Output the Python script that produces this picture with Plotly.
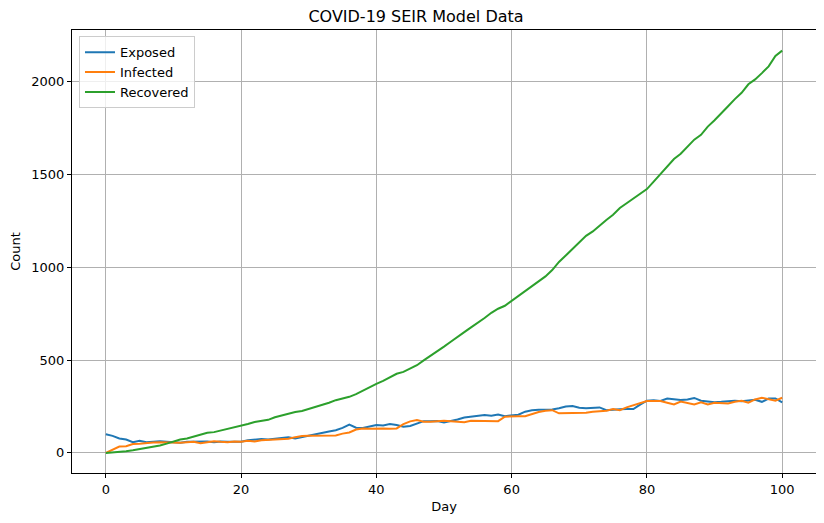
import plotly.graph_objects as go

days = list(range(101))

exposed = [100, 92, 78, 72, 58, 65, 58, 62, 63, 60,
           58, 55, 60, 62, 60, 62, 58, 62, 60, 62,
           60, 68, 72, 75, 72, 76, 80, 84, 78, 86,
           95, 100, 108, 115, 122, 135, 153, 136, 134, 142,
           150, 148, 155, 150, 141, 145, 158, 171, 170, 172,
           164, 170, 180, 191, 195, 196, 204, 200, 207, 198,
           204, 206, 222, 230, 232, 233, 234, 240, 250, 253,
           243, 240, 243, 245, 230, 234, 235, 236, 236, 260,
           281, 284, 280, 293, 290, 285, 288, 296, 281, 276,
           273, 275, 278, 281, 278, 284, 286, 275, 293, 293,
           272]

infected = [0, 15, 34, 36, 48, 50, 55, 56, 58, 57,
            60, 55, 58, 60, 52, 58, 63, 60, 58, 62,
            60, 65, 62, 68, 70, 72, 74, 76, 85, 91,
            92, 92, 94, 93, 94, 104, 110, 126, 132, 130,
            132, 132, 130, 132, 155, 170, 177, 168, 168, 172,
            173, 170, 167, 165, 173, 172, 172, 170, 171, 195,
            197, 198, 197, 209, 220, 227, 230, 213, 214, 215,
            214, 216, 221, 224, 227, 236, 230, 245, 257, 268,
            279, 280, 279, 270, 261, 277, 270, 261, 272, 261,
            270, 268, 266, 275, 281, 270, 288, 297, 288, 281,
            297]

recovered = [0, 2, 5, 9, 14, 20, 26, 32, 40, 50,
             62, 72, 78, 88, 102, 108, 112, 120, 130, 140,
             148, 156, 166, 172, 178, 192, 202, 212, 220, 226,
             236, 246, 256, 270, 284, 292, 302, 316, 336, 356,
             372, 388, 406, 426, 436, 452, 472, 498, 522, 544,
             572, 598, 626, 650, 676, 700, 726, 754, 776, 792,
             818, 844, 870, 896, 922, 950, 984, 1028, 1062, 1098,
             1134, 1168, 1192, 1224, 1254, 1282, 1318, 1344, 1370, 1396,
             1420, 1460, 1500, 1540, 1582, 1610, 1650, 1686, 1712, 1756,
             1790, 1826, 1866, 1904, 1938, 1984, 2010, 2044, 2080, 2136,
             2165]

x_ticks = [0, 20, 40, 60, 80, 100]
y_ticks = [0, 500, 1000, 1500, 2000]

series = [("Exposed", exposed, "#1f77b4"),
          ("Infected", infected, "#ff7f0e"),
          ("Recovered", recovered, "#2ca02c")]

fig = go.Figure()
for name, vals, col in series:
    fig.add_trace(go.Scatter(x=days, y=vals, mode="lines", name=name,
                             line=dict(color=col, width=2)))

font = "DejaVu Sans, Verdana, sans-serif"
axis_common = dict(showline=True, linecolor="black", linewidth=1, mirror=True,
                   showgrid=True, gridcolor="#b0b0b0", gridwidth=0.8,
                   ticks="outside", ticklen=4, tickcolor="black", tickwidth=1,
                   zeroline=False, automargin=False,
                   tickfont=dict(family=font, size=13, color="black"))

# the page body has an 8px margin, so the figure is sized/offset to compensate
W, H = 816, 515
fig.update_layout(
    width=W, height=H,
    margin=dict(l=64, r=8, t=22, b=50),
    paper_bgcolor="white", plot_bgcolor="white",
    title=dict(text="COVID-19 SEIR Model Data", x=0.5, xanchor="center",
               y=1 - 8 / H, yanchor="middle",
               font=dict(family=font, size=16, color="black")),
    xaxis=dict(range=[-5, 105], tickvals=x_ticks,
               title=dict(text="Day", font=dict(family=font, size=13, color="black"), standoff=6),
               **axis_common),
    yaxis=dict(range=[-108, 2276], tickvals=y_ticks,
               title=dict(text="Count", font=dict(family=font, size=13, color="black"), standoff=8),
               **axis_common),
    legend=dict(x=0.0094, y=0.986, xanchor="left", yanchor="top",
                bgcolor="rgba(255,255,255,0.8)", bordercolor="#cccccc", borderwidth=1,
                font=dict(family=font, size=13, color="black"),
                tracegroupgap=0, itemwidth=30),
    showlegend=True,
)

fig.write_html("out.html")
